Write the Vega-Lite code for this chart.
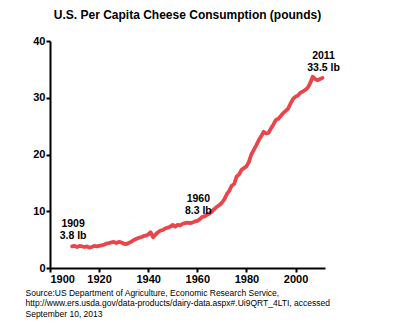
{
  "$schema": "https://vega.github.io/schema/vega-lite/v6.json",
  "autosize": {"type": "none"},
  "width": 275,
  "height": 227,
  "padding": {"left": 50, "top": 41, "right": 20, "bottom": 64},
  "background": "white",
  "title": {"text": "U.S. Per Capita Cheese Consumption (pounds)", "anchor": "middle", "font": "Liberation Sans", "fontSize": 12, "fontWeight": "bold", "color": "black", "offset": 13},
  "config": {"view": {"stroke": null}},
  "datasets": {
    "cheese": [
      {"year": 1909, "lbs": 3.8}, {"year": 1910, "lbs": 3.9}, {"year": 1911, "lbs": 3.7}, {"year": 1912, "lbs": 3.9},
      {"year": 1913, "lbs": 3.8}, {"year": 1914, "lbs": 3.7}, {"year": 1915, "lbs": 3.8}, {"year": 1916, "lbs": 3.6},
      {"year": 1917, "lbs": 3.7}, {"year": 1918, "lbs": 3.9}, {"year": 1919, "lbs": 3.8}, {"year": 1920, "lbs": 3.9},
      {"year": 1921, "lbs": 4.0}, {"year": 1922, "lbs": 4.1}, {"year": 1923, "lbs": 4.3}, {"year": 1924, "lbs": 4.4},
      {"year": 1925, "lbs": 4.5}, {"year": 1926, "lbs": 4.6}, {"year": 1927, "lbs": 4.4}, {"year": 1928, "lbs": 4.6},
      {"year": 1929, "lbs": 4.5}, {"year": 1930, "lbs": 4.3}, {"year": 1931, "lbs": 4.2}, {"year": 1932, "lbs": 4.4},
      {"year": 1933, "lbs": 4.6}, {"year": 1934, "lbs": 4.9}, {"year": 1935, "lbs": 5.1}, {"year": 1936, "lbs": 5.3},
      {"year": 1937, "lbs": 5.4}, {"year": 1938, "lbs": 5.6}, {"year": 1939, "lbs": 5.7}, {"year": 1940, "lbs": 5.9},
      {"year": 1941, "lbs": 6.3}, {"year": 1942, "lbs": 5.4}, {"year": 1943, "lbs": 5.9}, {"year": 1944, "lbs": 6.3},
      {"year": 1945, "lbs": 6.6}, {"year": 1946, "lbs": 6.7}, {"year": 1947, "lbs": 7.0}, {"year": 1948, "lbs": 7.1},
      {"year": 1949, "lbs": 7.3}, {"year": 1950, "lbs": 7.6}, {"year": 1951, "lbs": 7.3}, {"year": 1952, "lbs": 7.6},
      {"year": 1953, "lbs": 7.5}, {"year": 1954, "lbs": 7.8}, {"year": 1955, "lbs": 7.9}, {"year": 1956, "lbs": 8.0},
      {"year": 1957, "lbs": 7.9}, {"year": 1958, "lbs": 8.0}, {"year": 1959, "lbs": 8.2}, {"year": 1960, "lbs": 8.3},
      {"year": 1961, "lbs": 8.6}, {"year": 1962, "lbs": 9.0}, {"year": 1963, "lbs": 9.1}, {"year": 1964, "lbs": 9.4},
      {"year": 1965, "lbs": 9.6}, {"year": 1966, "lbs": 10.0}, {"year": 1967, "lbs": 10.4}, {"year": 1968, "lbs": 10.8},
      {"year": 1969, "lbs": 11.1}, {"year": 1970, "lbs": 11.5}, {"year": 1971, "lbs": 12.1}, {"year": 1972, "lbs": 13.0},
      {"year": 1973, "lbs": 13.6}, {"year": 1974, "lbs": 14.5}, {"year": 1975, "lbs": 14.8}, {"year": 1976, "lbs": 16.1},
      {"year": 1977, "lbs": 16.5}, {"year": 1978, "lbs": 17.3}, {"year": 1979, "lbs": 17.6}, {"year": 1980, "lbs": 17.9},
      {"year": 1981, "lbs": 18.7}, {"year": 1982, "lbs": 20.0}, {"year": 1983, "lbs": 20.8}, {"year": 1984, "lbs": 21.6},
      {"year": 1985, "lbs": 22.5}, {"year": 1986, "lbs": 23.2}, {"year": 1987, "lbs": 24.0}, {"year": 1988, "lbs": 23.7},
      {"year": 1989, "lbs": 23.8}, {"year": 1990, "lbs": 24.6}, {"year": 1991, "lbs": 25.3}, {"year": 1992, "lbs": 26.1},
      {"year": 1993, "lbs": 26.3}, {"year": 1994, "lbs": 26.8}, {"year": 1995, "lbs": 27.3}, {"year": 1996, "lbs": 27.7},
      {"year": 1997, "lbs": 28.1}, {"year": 1998, "lbs": 29.0}, {"year": 1999, "lbs": 29.8}, {"year": 2000, "lbs": 30.2},
      {"year": 2001, "lbs": 30.4}, {"year": 2002, "lbs": 30.9}, {"year": 2003, "lbs": 31.1}, {"year": 2004, "lbs": 31.4},
      {"year": 2005, "lbs": 31.8}, {"year": 2006, "lbs": 32.6}, {"year": 2007, "lbs": 33.7}, {"year": 2008, "lbs": 33.3},
      {"year": 2009, "lbs": 33.1}, {"year": 2010, "lbs": 33.3}, {"year": 2011, "lbs": 33.5}
    ],
    "notes": [
      {"year": 1909, "lbs": 3.8, "label": "1909\n3.8 lb"},
      {"year": 1960, "lbs": 8.3, "label": "1960\n8.3 lb"},
      {"year": 2011, "lbs": 33.5, "label": "2011\n33.5 lb"}
    ]
  },
  "encoding": {
    "x": {
      "field": "year", "type": "quantitative",
      "scale": {"domain": [1900, 2012], "nice": false, "zero": false},
      "axis": {
        "values": [1900, 1920, 1940, 1960, 1980, 2000],
        "format": "d", "grid": false,
        "domainColor": "black", "domainWidth": 2, "tickColor": "black", "tickWidth": 2, "tickSize": 4,
        "labelFont": "Liberation Sans", "labelFontSize": 11, "labelFontWeight": "bold", "labelColor": "black", "labelPadding": 1,
        "title": ["Source:US  Department of Agriculture, Economic Research Service,", "http://www.ers.usda.gov/data-products/dairy-data.aspx#.Ui9QRT_4LTI, accessed", "September 10, 2013"],
        "titleFont": "Liberation Sans", "titleFontSize": 8.5, "titleFontWeight": "normal", "titleColor": "black",
        "titleAnchor": "start", "titleAlign": "left", "titleBaseline": "top", "titleX": -25, "titleY": 20, "titleLineHeight": 10.5
      }
    },
    "y": {
      "field": "lbs", "type": "quantitative",
      "scale": {"domain": [0, 40], "nice": false},
      "axis": {
        "values": [0, 10, 20, 30, 40], "grid": false, "title": null,
        "domainColor": "black", "domainWidth": 2, "tickColor": "black", "tickWidth": 2, "tickSize": 4,
        "labelFont": "Liberation Sans", "labelFontSize": 11, "labelFontWeight": "bold", "labelColor": "black", "labelPadding": 1
      }
    }
  },
  "layer": [
    {
      "data": {"name": "cheese"},
      "mark": {"type": "line", "color": "#e8464b", "strokeWidth": 3.8, "strokeJoin": "round", "strokeCap": "round"}
    },
    {
      "data": {"name": "notes"},
      "mark": {"type": "text", "align": "center", "baseline": "bottom", "dy": -17, "dx": 1, "font": "Liberation Sans", "fontSize": 10.5, "fontWeight": "bold", "color": "black", "lineBreak": "\n", "lineHeight": 12},
      "encoding": {"text": {"field": "label"}}
    }
  ]
}
